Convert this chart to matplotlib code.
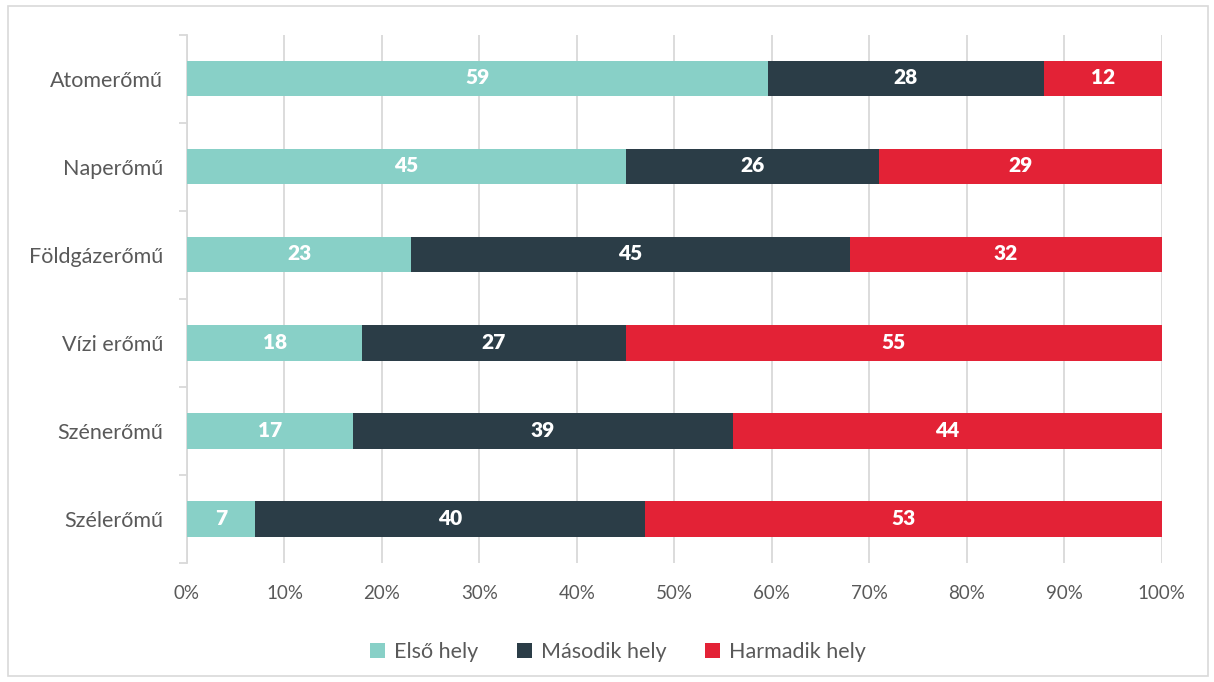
import matplotlib
matplotlib.use('Agg')
import matplotlib.pyplot as plt
import matplotlib.patches as mpatches
import numpy as np

plt.rcParams['font.family'] = ['Lato', 'DejaVu Sans']

# Data (top to bottom as shown)
categories = ['Atomerőmű', 'Naperőmű', 'Földgázerőmű', 'Vízi erőmű', 'Szénerőmű', 'Szélerőmű']
first = [59, 45, 23, 18, 17, 7]
second = [28, 26, 45, 27, 39, 40]
third = [12, 29, 32, 55, 44, 53]
series_names = ['Első hely', 'Második hely', 'Harmadik hely']
colors = ['#88D0C7', '#2B3D47', '#E32236']
text_color = '#595959'
grid_color = '#D9D9D9'

data = np.array([first, second, third], dtype=float)
shares = data / data.sum(axis=0)

fig = plt.figure(figsize=(12.14, 6.82), dpi=100)
ax = fig.add_axes([0.154, 0.1745, 0.803, 0.7745])

y = np.arange(len(categories))[::-1]
left = np.zeros(len(categories))
for i in range(3):
    bars = ax.barh(y, shares[i], left=left, height=0.4, color=colors[i],
                   label=series_names[i], zorder=3)
    for b, v in zip(bars, data[i]):
        ax.text(b.get_x() + b.get_width() / 2, b.get_y() + b.get_height() / 2 + 0.01,
                f'{int(v)}', ha='center', va='center', color='white',
                fontsize=15, fontweight='heavy', zorder=4)
    left += shares[i]

ax.set_xlim(0, 1)
ax.set_ylim(-0.5, len(categories) - 0.5)
ax.set_xticks(np.arange(0, 1.01, 0.1))
ax.set_xticklabels([f'{int(round(t * 100))}%' for t in np.arange(0, 1.01, 0.1)])
ax.set_yticks(y)
ax.set_yticklabels(categories)
ax.set_yticks(np.arange(-0.5, len(categories), 1), minor=True)
ax.tick_params(axis='y', which='major', length=0, pad=17, labelsize=15.5, labelcolor=text_color)
ax.tick_params(axis='y', which='minor', length=6, color=grid_color, width=1.3)
ax.tick_params(axis='x', length=0, pad=16, labelsize=13.5, labelcolor=text_color)

ax.grid(axis='x', color=grid_color, linewidth=1.3, zorder=0)
for s in ['top', 'right', 'bottom']:
    ax.spines[s].set_visible(False)
ax.spines['left'].set_color(grid_color)
ax.spines['left'].set_linewidth(1.3)

ax.legend(loc='lower center', bbox_to_anchor=(0.442, -0.225), ncol=3, frameon=False,
          fontsize=15.5, labelcolor=text_color, handlelength=0.7, handleheight=0.7,
          handletextpad=0.4, columnspacing=1.8)

# outer chart border
fig.patches.append(mpatches.Rectangle((8 / 1214, 1 - 676 / 682), 1200 / 1214, 670 / 682,
                                      transform=fig.transFigure, fill=False,
                                      edgecolor=grid_color, linewidth=1.2))

fig.savefig('out.png', dpi=100)
